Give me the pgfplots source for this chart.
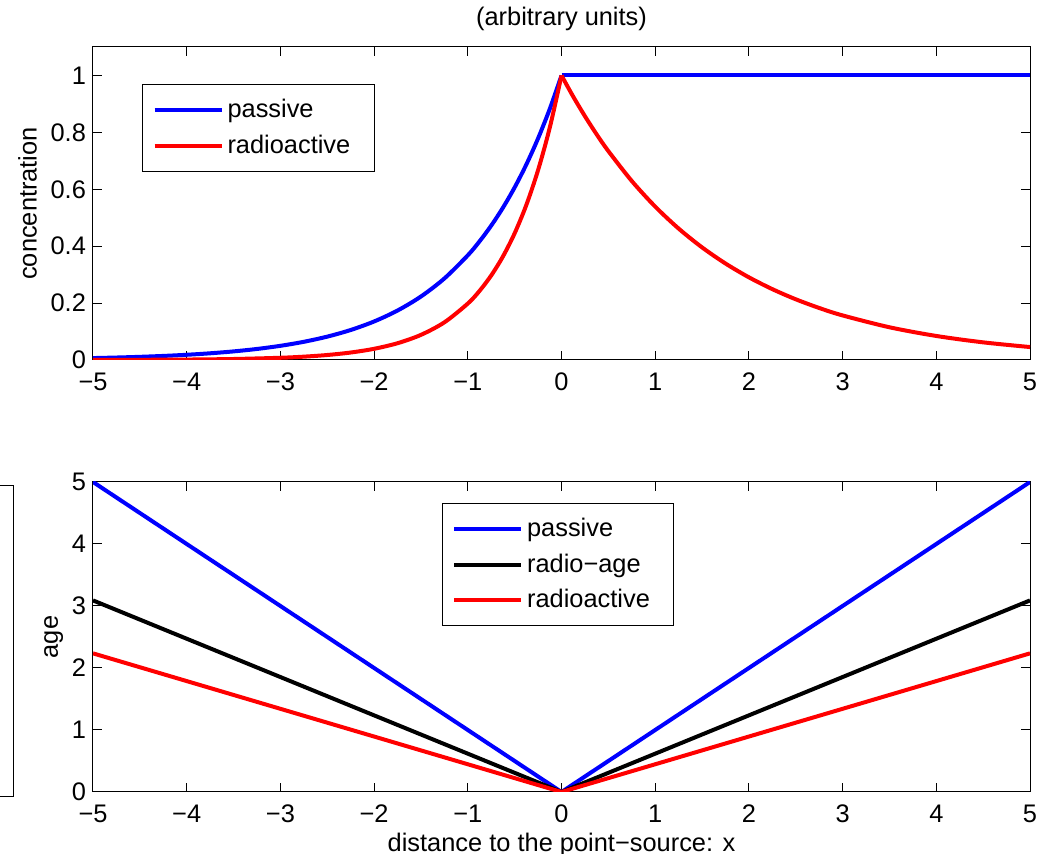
\documentclass[border=0pt]{standalone}
\usepackage{fontspec}
\setmainfont{Liberation Sans}
\usepackage{pgfplots}
\pgfplotsset{compat=1.18}

% common look of both panels (matlab-like)
\pgfplotsset{
  mat/.style={
    scale only axis,
    width=468.5pt,
    xmin=-5, xmax=5,
    xtick={-5,...,5},
    xticklabels={−5,−4,−3,−2,−1,0,1,2,3,4,5},
    tick align=inside,
    major tick length=4.5pt,
    axis line style={line width=0.5pt},
    tick style={line width=0.5pt, black},
    every axis plot/.append style={line width=2pt},
    font=\fontsize{12.7}{15}\selectfont,
    xticklabel style={yshift=-3pt},
    legend cell align=left,
    legend image code/.code={\draw[#1] (0pt,0pt) -- (33.5pt,0pt);},
    legend style={draw=black, line width=0.5pt, fill=white,
      font=\fontsize{12.7}{15}\selectfont,
      inner xsep=5pt, inner ysep=5.5pt, row sep=3pt},
  },
}

\begin{document}
\begin{tikzpicture}
\useasboundingbox (0pt,0pt) rectangle (523pt,-427pt);

\begin{axis}[mat, name=top,
  at={(46.5pt,-23.5pt)}, anchor=north west,
  height=156.5pt,
  ymin=0, ymax=1.1,
  ytick={0,0.2,0.4,0.6,0.8,1},
  yticklabels={0,0.2,0.4,0.6,0.8,1},
  ylabel={concentration},
  title={(arbitrary units)},
  title style={yshift=-1.5pt},
  legend style={at={(0.0523,0.882)}, anchor=north west},
]
\addplot[blue, smooth] coordinates {
(-5,0.006738) (-4.75,0.008652) (-4.5,0.011109) (-4.25,0.014264)
(-4,0.018316) (-3.75,0.023518) (-3.5,0.030197) (-3.25,0.038774)
(-3,0.049787) (-2.75,0.063928) (-2.5,0.082085) (-2.25,0.105399)
(-2,0.135335) (-1.75,0.173774) (-1.5,0.223130) (-1.25,0.286505)
(-1,0.367879) (-0.875,0.416862) (-0.75,0.472367) (-0.625,0.535261)
(-0.5,0.606531) (-0.375,0.687289) (-0.25,0.778801) (-0.125,0.882497)
(0,1)
};
\addlegendentry{passive}
\addplot[red, smooth] coordinates {
(-5,0.000306) (-4.5,0.000688) (-4,0.001546) (-3.5,0.003473)
(-3,0.007797) (-2.75,0.011685) (-2.5,0.017510) (-2.25,0.026239)
(-2,0.039321) (-1.75,0.058925) (-1.5,0.088301) (-1.25,0.132324)
(-1,0.198300) (-0.875,0.242700) (-0.75,0.297150) (-0.625,0.363770)
(-0.5,0.445310) (-0.375,0.545130) (-0.25,0.667310) (-0.125,0.816900)
(0,1)
};
\addlegendentry{radioactive\rule{5pt}{0pt}}
\addplot[blue, forget plot] coordinates {(0,1) (5,1)};
\addplot[red, smooth, forget plot] coordinates {
(0,1)
(0.125,0.925660) (0.25,0.856850) (0.375,0.792950) (0.5,0.734180)
(0.75,0.629080) (1,0.539000) (1.25,0.461860) (1.5,0.395740)
(1.75,0.339090) (2,0.290540) (2.25,0.248970) (2.5,0.213310)
(2.75,0.182790) (3,0.156610) (3.5,0.114980) (4,0.084420)
(4.5,0.061980) (5,0.045500)
};
\end{axis}

\begin{axis}[mat, name=bot,
  at={(46.5pt,-241pt)}, anchor=north west,
  height=155pt,
  ymin=0, ymax=5,
  ytick={0,1,2,3,4,5},
  yticklabels={0,1,2,3,4,5},
  ylabel={age},
  ylabel shift=-2.5pt,
  xlabel={distance to the point−source: x},
  xlabel style={yshift=2pt},
  legend style={at={(0.372,0.932)}, anchor=north west},
]
\addplot[blue] coordinates {(-5,5) (0,0) (5,5)};
\addlegendentry{passive}
\addplot[black] coordinates {(-5,3.09) (0,0) (5,3.09)};
\addlegendentry{radio−age}
\addplot[red] coordinates {(-5,2.236) (0,0) (5,2.236)};
\addlegendentry{radioactive\rule{5pt}{0pt}}
\end{axis}

% stray empty box cut off at the left edge
\draw[line width=0.5pt] (-5pt,-243pt) rectangle (6.5pt,-398.5pt);
\end{tikzpicture}
\end{document}
